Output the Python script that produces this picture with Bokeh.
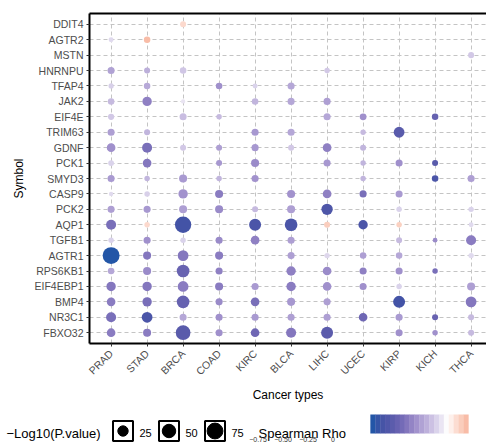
import math
from bokeh.plotting import figure
from bokeh.models import (ColumnDataSource, Range1d, FactorRange, FixedTicker,
                          LinearAxis, LinearColorMapper)
from bokeh.layouts import column
from bokeh.embed import file_html
from bokeh.resources import INLINE
from bokeh.core.properties import value

FONT = "Liberation Sans"

genes = ["DDIT4", "AGTR2", "MSTN", "HNRNPU", "TFAP4", "JAK2", "EIF4E", "TRIM63",
         "GDNF", "PCK1", "SMYD3", "CASP9", "PCK2", "AQP1", "TGFB1", "AGTR1",
         "RPS6KB1", "EIF4EBP1", "BMP4", "NR3C1", "FBXO32"]
cancers = ["PRAD", "STAD", "BRCA", "COAD", "KIRC", "BLCA", "LIHC", "UCEC",
           "KIRP", "KICH", "THCA"]

N = None
# Spearman rho per cancer type, in the order of `genes` (None = not significant)
rho_PRAD = [N, -0.10, N, -0.29, -0.13, -0.20, -0.15, -0.30, -0.36, -0.12, -0.32,
            -0.10, -0.30, -0.50, -0.12, -0.86, -0.27, -0.46, -0.44, -0.50, -0.44]
rho_STAD = [N, 0.22, N, -0.24, -0.26, -0.42, N, -0.22, -0.50, -0.46, -0.22,
            -0.13, -0.33, 0.12, -0.36, -0.46, -0.38, -0.46, -0.50, -0.72, -0.44]
rho_BRCA = [0.12, N, N, -0.16, N, -0.07, -0.19, N, -0.15, N, -0.32,
            -0.35, -0.30, -0.76, -0.12, -0.46, -0.57, -0.44, -0.58, -0.27, -0.64]
rho_COAD = [N, N, N, N, -0.36, N, -0.20, N, -0.30, -0.33, -0.22,
            -0.44, -0.38, N, -0.38, -0.44, -0.42, -0.44, -0.38, -0.36, -0.36]
rho_KIRC = [N, N, N, N, -0.12, -0.22, N, -0.33, -0.33, -0.38, -0.35,
            N, -0.20, -0.72, -0.42, N, N, -0.32, -0.50, -0.32, -0.54]
rho_BLCA = [N, N, N, N, -0.27, -0.27, N, -0.27, -0.15, N, N,
            -0.35, -0.30, -0.72, -0.30, -0.30, -0.42, -0.44, -0.33, -0.30, -0.46]
rho_LIHC = [N, N, N, -0.15, N, -0.30, -0.27, N, -0.42, -0.33, N,
            -0.42, -0.70, 0.16, N, -0.11, -0.38, -0.36, -0.30, -0.30, -0.63]
rho_UCEC = [N, N, N, N, N, N, -0.36, -0.20, -0.22, -0.22, -0.22,
            -0.50, N, -0.72, N, -0.30, -0.42, -0.36, N, -0.54, N]
rho_KIRP = [N, N, N, N, N, N, N, -0.64, N, -0.36, N,
            -0.32, -0.12, 0.15, -0.20, -0.27, -0.36, -0.12, -0.76, -0.32, -0.36]
rho_KICH = [N, N, N, N, N, N, -0.58, N, N, -0.64, -0.72,
            N, N, N, -0.38, N, -0.50, N, N, -0.57, -0.36]
rho_THCA = [N, N, -0.15, N, N, N, N, N, N, N, -0.30,
            N, -0.12, -0.10, -0.44, -0.10, N, -0.30, -0.46, -0.20, -0.20]

# -log10(P value) per cancer type, same order
logp_PRAD = [N, 2, N, 8, 2.5, 6, 5, 8, 15, 4, 8, 1, 8, 23, 3, 88, 6, 19, 15, 23, 15]
logp_STAD = [N, 6, N, 4.5, 6, 19, N, 4.5, 23, 15, 3, 3, 8, 3, 8, 12, 12, 19, 19, 28, 12]
logp_BRCA = [4.5, N, N, 6, N, 1, 8, N, 4.5, N, 12, 19, 12, 80, 3, 28, 43, 28, 43, 8, 62]
logp_COAD = [N, N, N, N, 6, N, 3, N, 4.5, 4.5, 3, 12, 12, N, 8, 12, 8, 12, 8, 8, 8]
logp_KIRC = [N, N, N, N, 2, 6, N, 8, 8, 12, 8, N, 4.5, 37, 15, N, N, 8, 15, 8, 15]
logp_BLCA = [N, N, N, N, 8, 8, N, 8, 4.5, N, N, 12, 12, 43, 8, 8, 19, 19, 12, 8, 23]
logp_LIHC = [N, N, N, 3, N, 8, 8, N, 15, 8, N, 15, 32, 4.5, N, 3, 15, 15, 8, 8, 37]
logp_UCEC = [N, N, N, N, N, N, 7, 3, 4.5, 3, 3, 8, N, 19, N, 6, 8, 8, N, 15, N]
logp_KIRP = [N, N, N, N, N, N, N, 28, N, 8, N, 8, 3, 3, 4.5, 6, 8, 3, 37, 8, 8]
logp_KICH = [N, N, N, N, N, N, 6, N, N, 4.5, 6, N, N, N, 1.5, N, 3, N, N, 4.5, 3]
logp_THCA = [N, N, 4.5, N, N, N, N, N, N, N, 8, N, 3, 2, 23, 3, N, 12, 28, 4.5, 4.5]

size_breaks = [25, 50, 75]
rho_ticks = [-0.75, -0.50, -0.25, 0]
rho_low, rho_high = -0.86, 0.22
logp_max = 90.0

rho_by_cancer = {"PRAD": rho_PRAD, "STAD": rho_STAD, "BRCA": rho_BRCA, "COAD": rho_COAD,
                 "KIRC": rho_KIRC, "BLCA": rho_BLCA, "LIHC": rho_LIHC, "UCEC": rho_UCEC,
                 "KIRP": rho_KIRP, "KICH": rho_KICH, "THCA": rho_THCA}
logp_by_cancer = {"PRAD": logp_PRAD, "STAD": logp_STAD, "BRCA": logp_BRCA, "COAD": logp_COAD,
                  "KIRC": logp_KIRC, "BLCA": logp_BLCA, "LIHC": logp_LIHC, "UCEC": logp_UCEC,
                  "KIRP": logp_KIRP, "KICH": logp_KICH, "THCA": logp_THCA}


def dot_size(v):
    # area-style size scale: diameter in px grows with sqrt of -log10(p)
    return 2.85 * (1 + 5 * math.sqrt(v / logp_max))


# blue -> purple -> white -> salmon colour ramp
stops = [(-0.86, "#2356a7"), (-0.76, "#4453a6"), (-0.66, "#5659aa"), (-0.56, "#6a64b2"),
         (-0.46, "#8577be"), (-0.36, "#a090cc"), (-0.26, "#b8aad8"), (-0.16, "#d0c6e5"),
         (-0.06, "#ece8f4"), (0.0, "#ffffff"), (0.11, "#fcdcd0"), (0.22, "#f8bba5")]


def _hex(c):
    return tuple(int(c[i:i + 2], 16) for i in (1, 3, 5))


def ramp(n=256):
    out = []
    for k in range(n):
        t = rho_low + (rho_high - rho_low) * k / (n - 1)
        for (a, ca), (b, cb) in zip(stops[:-1], stops[1:]):
            if a <= t <= b:
                f = (t - a) / (b - a)
                r = [round(x + (y - x) * f) for x, y in zip(_hex(ca), _hex(cb))]
                out.append("#%02x%02x%02x" % tuple(r))
                break
    return out


mapper = LinearColorMapper(palette=ramp(), low=rho_low, high=rho_high)

xs, ys, rs, ps, ds = [], [], [], [], []
for ci, c in enumerate(cancers):
    for gi, g in enumerate(genes):
        r = rho_by_cancer[c][gi]
        if r is None:
            continue
        v = logp_by_cancer[c][gi]
        xs.append(ci)
        ys.append(g)
        rs.append(r)
        ps.append(v)
        ds.append(dot_size(v))
src = ColumnDataSource(dict(x=xs, gene=ys, rho=rs, logp=ps, d=ds))

# ---------------- main dot plot ----------------
W, H = 486, 405
left, top = 89, 13
step = 36.0
x0 = -0.6
p = figure(width=W, height=H, output_backend="svg", toolbar_location=None,
           x_range=Range1d(x0, x0 + (W - left) / step),
           y_range=FactorRange(factors=list(reversed(genes)), range_padding=0.2,
                               range_padding_units="absolute"),
           min_border_left=left, min_border_right=0, min_border_top=top,
           min_border_bottom=53, frame_align=False)
p.outline_line_color = None
p.background_fill_color = "white"
p.border_fill_color = "white"

p.scatter(x="x", y="gene", size="d", source=src, line_color=None,
          fill_color={"field": "rho", "transform": mapper})

p.xaxis.ticker = FixedTicker(ticks=list(range(len(cancers))))
p.xaxis.major_label_overrides = {i: c for i, c in enumerate(cancers)}
p.xaxis.major_label_orientation = math.pi / 4

for ax in (p.xaxis[0], p.yaxis[0]):
    ax.axis_line_color = "black"
    ax.axis_line_width = 2
    ax.major_tick_line_color = "#333333"
    ax.major_tick_in = 0
    ax.major_tick_out = 3
    ax.minor_tick_line_color = None
    ax.major_label_text_font = FONT
    ax.major_label_text_font_size = "10.5px"
    ax.major_label_text_color = "#4d4d4d"
    ax.major_label_standoff = 3
    ax.axis_label_text_font = FONT
    ax.axis_label_text_font_size = "12px"
    ax.axis_label_text_font_style = "normal"
    ax.axis_label_text_color = "black"
p.xaxis.major_label_standoff = 5
p.xaxis.axis_label = "Cancer types"
p.yaxis.axis_label = "Symbol"
p.yaxis.axis_label_standoff = 5
p.xaxis.axis_label_standoff = 4

top_line = LinearAxis(ticker=FixedTicker(ticks=[]), axis_line_color="black",
                      axis_line_width=2, major_tick_line_color=None,
                      minor_tick_line_color=None, major_label_text_font_size="0px")
p.add_layout(top_line, "above")

for g in (p.xgrid[0], p.ygrid[0]):
    g.grid_line_color = "#c4c4c4"
    g.grid_line_dash = "4 3"
    g.grid_line_width = 1

# ---------------- legend strip (coordinates in page pixels) ----------------
LH = 443 - H
lg = figure(width=W, height=LH, output_backend="svg", toolbar_location=None,
            x_range=Range1d(0, W), y_range=Range1d(443, H),
            min_border=0, x_axis_type=None, y_axis_type=None, frame_align=False)
lg.outline_line_color = None
lg.grid.visible = False
lg.background_fill_color = "white"
lg.border_fill_color = "white"

lg.text(x=[6], y=[432.5], text=["\u2212Log10(P.value)"], text_font=value(FONT),
        text_font_size="13px", text_align="left", text_baseline="middle",
        text_color="black")
key_x = [122.5, 168.5, 214.5]
key_src = ColumnDataSource(dict(x=key_x, y=[430.5] * 3,
                                d=[dot_size(v) for v in size_breaks],
                                lab=[str(v) for v in size_breaks],
                                lx=[k + 16.5 for k in key_x]))
lg.rect(x="x", y="y", width=20, height=20, source=key_src, fill_color="white",
        line_color="black", line_width=2)
lg.scatter(x="x", y="y", size="d", source=key_src, color="black")
lg.text(x="lx", y=432.5, text="lab", source=key_src, text_font=value(FONT),
        text_font_size="11px", text_align="left", text_baseline="middle",
        text_color="black")

lg.text(x=[258], y=[432.5], text=["Spearman Rho"], text_font=value(FONT),
        text_font_size="13px", text_align="left", text_baseline="middle",
        text_color="black")

nbin = 20
bar_x0, bar_w = 370.0, 98.0
bins = [rho_low + (rho_high - rho_low) * k / (nbin - 1) for k in range(nbin)]
bin_w = bar_w / nbin
bar_src = ColumnDataSource(dict(x=[bar_x0 + bin_w * (k + 0.5) for k in range(nbin)],
                                v=bins))
lg.rect(x="x", y=423.5, width=bin_w + 0.3, height=19, source=bar_src, line_color=None,
        fill_color={"field": "v", "transform": mapper})

tick_labels = [("%.2f" % t).replace("-", "\u2212") if t != 0 else "0" for t in rho_ticks]
tick_src = ColumnDataSource(dict(x=[332.5 + 100 * t for t in rho_ticks], lab=tick_labels))
lg.text(x="x", y=439.3, text="lab", source=tick_src, text_font=value(FONT),
        text_font_size="7px", text_align="center", text_baseline="middle",
        text_color="#333333")

layout = column(p, lg, spacing=0)
open("out.html", "w").write(file_html(layout, INLINE))
